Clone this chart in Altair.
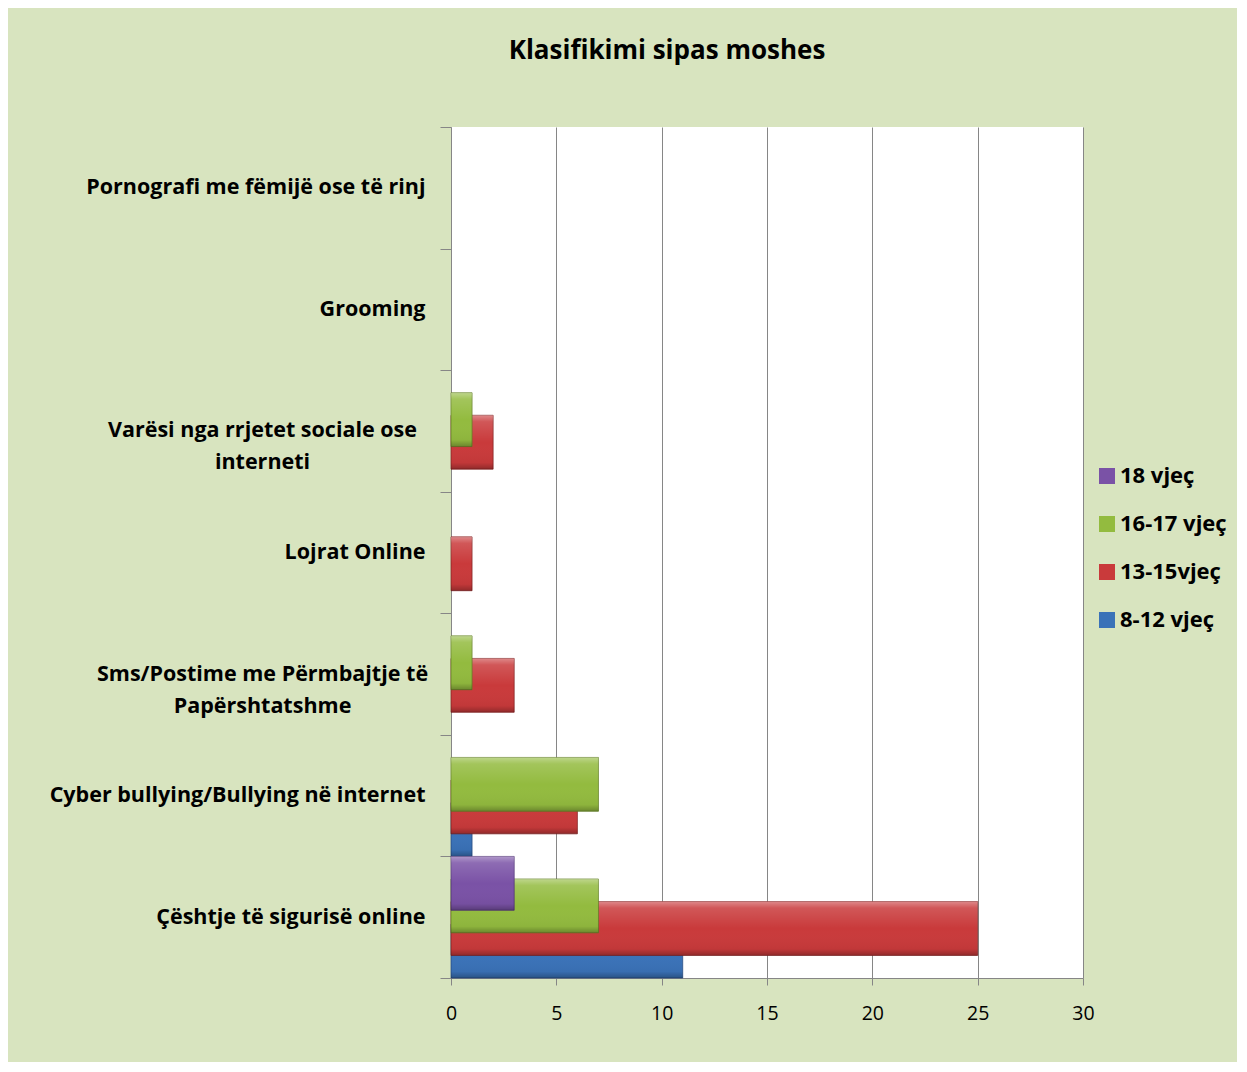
import json
import altair as alt
import pandas as pd

# ---- data (categories listed top to bottom as in the chart) ----
categories = [
    "Pornografi me fëmijë ose të rinj",
    "Grooming",
    "Varësi nga rrjetet sociale ose\ninterneti",
    "Lojrat Online",
    "Sms/Postime me Përmbajtje të\nPapërshtatshme",
    "Cyber bullying/Bullying në internet",
    "Çështje të sigurisë online",
]
series = ["8-12 vjeç", "13-15vjeç", "16-17 vjeç", "18 vjeç"]
v_8_12 = [0, 0, 0, 0, 0, 1, 11]
v_13_15 = [0, 0, 2, 1, 3, 6, 25]
v_16_17 = [0, 0, 1, 0, 1, 7, 7]
v_18 = [0, 0, 0, 0, 0, 0, 3]
x_ticks = [0, 5, 10, 15, 20, 25, 30]
colors = {"8-12 vjeç": "#3A72B8", "13-15vjeç": "#C93A3B",
          "16-17 vjeç": "#93BB3F", "18 vjeç": "#7A52A6"}
edges = {"8-12 vjeç": "#22467A", "13-15vjeç": "#7E1F20",
         "16-17 vjeç": "#5E7A22", "18 vjeç": "#4B2F70"}

values = [v_8_12, v_13_15, v_16_17, v_18]
n = len(categories)
rows = []
for s_i, (name, vals) in enumerate(zip(series, values)):
    for c_i, (cat, v) in enumerate(zip(categories, vals)):
        rows.append({"category": cat, "series": name, "s": s_i,
                     "row": n - 1 - c_i, "value": v})
df = pd.DataFrame(rows)

# ---- styling constants ----
BAR_H = 0.443
STEP = (1 - BAR_H) / 3
FONT = "Open Sans"
GRAY = "#868686"

labels_bottom_up = list(reversed(categories))
lab_arr = json.dumps(labels_bottom_up, ensure_ascii=False)
multi_vals = [i + 0.5 for i, l in enumerate(labels_bottom_up) if "\n" in l]
multi_test = " || ".join(f"datum.value == {v}" for v in multi_vals)
y_values = [i * 0.5 for i in range(2 * n + 1)]

legend_order = ["18 vjeç", "16-17 vjeç", "13-15vjeç", "8-12 vjeç"]

x_enc = alt.X("value:Q", title=None,
              scale=alt.Scale(domain=[0, 30], nice=False),
              axis=alt.Axis(values=x_ticks, grid=True, gridColor=GRAY,
                            gridWidth=1, domainColor=GRAY, tickColor=GRAY,
                            tickSize=7, labelFontSize=19.5, labelFont=FONT,
                            labelColor="#000000", labelPadding=19,
                            labelFlush=False))
y_enc = alt.Y("y0:Q", title=None,
              scale=alt.Scale(domain=[0, n], nice=False, zero=False),
              axis=alt.Axis(
                  values=y_values, grid=False, domainColor=GRAY,
                  tickColor=GRAY, tickSize=11,
                  tickOpacity={"condition": {"test": "datum.value % 1 == 0", "value": 1}, "value": 0},
                  labelExpr=f"datum.value % 1 == 0 ? '' : split({lab_arr}[floor(datum.value)], '\\n')",
                  labelAlign={"condition": {"test": multi_test, "value": "center"}, "value": "right"},
                  labelPadding={"condition": {"test": multi_test, "value": 178}, "value": 15},
                  labelBaseline="middle",
                  labelFontSize=21.5, labelFont=FONT, labelFontWeight="bold",
                  labelColor="#000000", labelLineHeight=32,
                  labelLimit=600, labelOverlap=False, labelBound=False,
                  minExtent=443, maxExtent=443))
color_enc = alt.Color("series:N", title=None,
                      scale=alt.Scale(domain=legend_order,
                                      range=[colors[s] for s in legend_order]),
                      legend=alt.Legend(orient="none", legendX=645, legendY=338,
                                        symbolType="square", symbolSize=256,
                                        symbolStrokeWidth=0, labelFontSize=22,
                                        labelFont=FONT, labelFontWeight="bold",
                                        labelColor="#000000", rowPadding=26,
                                        labelOffset=2))

base = alt.Chart(df).transform_filter(
    "datum.value > 0"
).transform_calculate(
    y0=f"datum.row + datum.s * {STEP}",
    y1=f"datum.row + datum.s * {STEP} + {BAR_H}",
).encode(x=x_enc, x2=alt.X2(datum=0), y=y_enc, y2="y1:Q")

shine = {
    "gradient": "linear", "x1": 0, "y1": 0, "x2": 0, "y2": 1,
    "stops": [
        {"offset": 0, "color": "rgba(255,255,255,0.40)"},
        {"offset": 0.12, "color": "rgba(255,255,255,0.15)"},
        {"offset": 0.5, "color": "rgba(255,255,255,0.0)"},
        {"offset": 0.88, "color": "rgba(0,0,0,0.04)"},
        {"offset": 1, "color": "rgba(0,0,0,0.28)"},
    ],
}

layers = []
for name in series:
    sub = base.transform_filter(alt.datum.series == name)
    layers.append(sub.mark_bar(stroke=edges[name], strokeWidth=1,
                               strokeOpacity=0.7).encode(color=color_enc))
    layers.append(sub.mark_bar(fill=shine, strokeWidth=0))

chart = alt.layer(*layers).properties(
    width=632, height=851,
    autosize=alt.AutoSizeParams(type="none"),
    padding={"left": 443, "top": 119, "right": 154, "bottom": 84},
    background="#D8E4BF",
    title=alt.Title("Klasifikimi sipas moshes", fontSize=26, font=FONT,
                    fontWeight="bold", color="#000000", anchor="middle",
                    frame="group", dx=-100, offset=31, baseline="alphabetic"),
).configure_view(fill="white", stroke=None)

chart.save("out.html", embed_options={"renderer": "svg", "actions": False})
